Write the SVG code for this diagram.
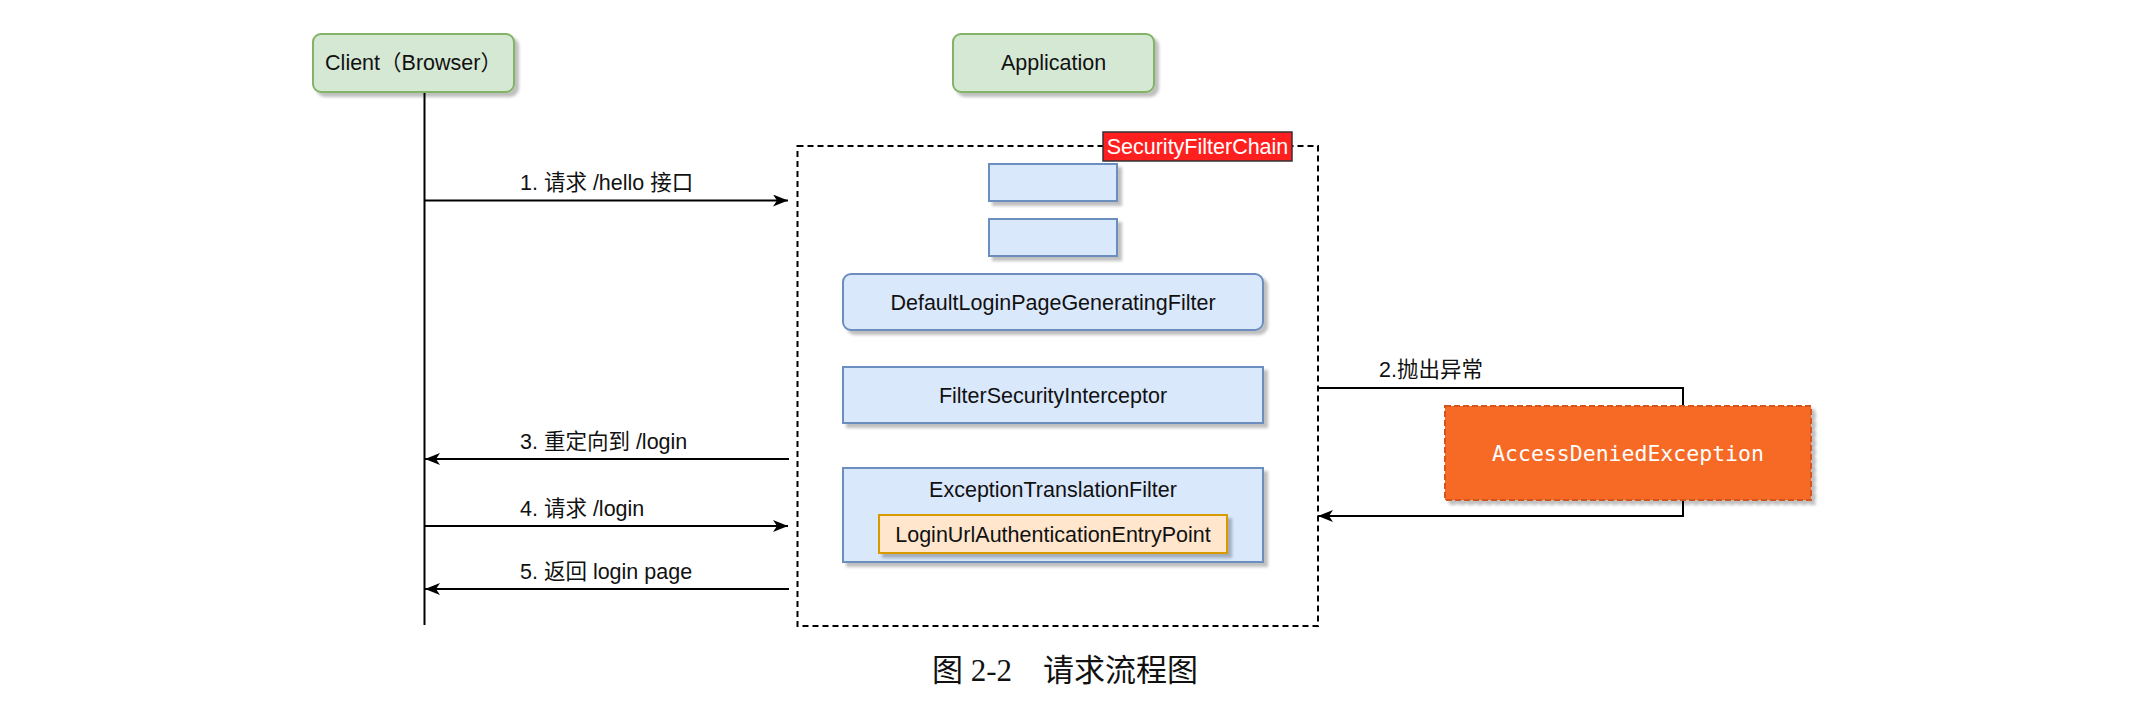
<svg xmlns="http://www.w3.org/2000/svg" width="2133" height="715" viewBox="0 0 2133 715">
<defs>
<filter id="sh" x="-10%" y="-10%" width="130%" height="140%">
<feDropShadow dx="4" dy="4" stdDeviation="1.5" flood-color="#000" flood-opacity="0.25"/>
</filter>
<marker id="ah" markerUnits="userSpaceOnUse" markerWidth="16" markerHeight="12" refX="15" refY="6" orient="auto">
<path d="M0,0 L15,6 L0,12 L4,6 Z" fill="#000"/>
</marker>
<style>
.t{font-family:"Liberation Sans","Noto Sans CJK SC",sans-serif;font-size:21.5px;fill:#111}
.c{text-anchor:middle}
.green{fill:#d5e8d4;stroke:#82b366;stroke-width:2}
.blue{fill:#dae8fc;stroke:#6c8ebf;stroke-width:2}
.orange{fill:#ffe6cc;stroke:#d79b00;stroke-width:2}
.ln{fill:none;stroke:#000;stroke-width:2}
</style>
</defs>
<rect width="2133" height="715" fill="#fff"/>

<g id="lifeline">
<line x1="424.5" y1="92" x2="424.5" y2="625" class="ln"/>
</g>

<g id="client">
<rect x="313" y="34" width="201" height="58" rx="8" class="green" filter="url(#sh)"/>
<text x="413.5" y="70" class="t c">Client（Browser）</text>
</g>

<g id="application">
<rect x="953" y="34" width="201" height="58" rx="8" class="green" filter="url(#sh)"/>
<text x="1053.5" y="70" class="t c">Application</text>
</g>

<g id="securityFilterChain">
<rect x="797.5" y="146" width="520.5" height="480" fill="none" stroke="#000" stroke-width="2" stroke-dasharray="6 4"/>
<rect x="1103" y="132" width="189" height="29" fill="#ff1f1f" stroke="#333" stroke-width="1.5"/>
<text x="1197.5" y="154" class="t c" style="fill:#fff">SecurityFilterChain</text>
</g>

<g id="filter1">
<rect x="989" y="164" width="128" height="37" class="blue" filter="url(#sh)"/>
</g>
<g id="filter2">
<rect x="989" y="219" width="128" height="37" class="blue" filter="url(#sh)"/>
</g>

<g id="defaultLoginPageGeneratingFilter">
<rect x="843" y="274" width="420" height="56" rx="8" class="blue" filter="url(#sh)"/>
<text x="1053" y="310" class="t c">DefaultLoginPageGeneratingFilter</text>
</g>

<g id="filterSecurityInterceptor">
<rect x="843" y="367" width="420" height="56" class="blue" filter="url(#sh)"/>
<text x="1053" y="403" class="t c">FilterSecurityInterceptor</text>
</g>

<g id="exceptionTranslationFilter">
<rect x="843" y="468" width="420" height="94" class="blue" filter="url(#sh)"/>
<text x="1053" y="497" class="t c">ExceptionTranslationFilter</text>
</g>

<g id="loginUrlAuthenticationEntryPoint">
<rect x="879" y="515" width="348" height="38" class="orange" filter="url(#sh)"/>
<text x="1053" y="542" class="t c">LoginUrlAuthenticationEntryPoint</text>
</g>

<g id="connectors">
<line x1="424.5" y1="200.5" x2="788" y2="200.5" class="ln" marker-end="url(#ah)"/>
<text x="520" y="190" class="t">1. 请求 /hello 接口</text>

<path d="M1318,388 H1683 V406" class="ln"/>
<text x="1379" y="377" class="t">2.抛出异常</text>
<path d="M1683,500 V516 H1318" class="ln" marker-end="url(#ah)"/>

<line x1="789" y1="459" x2="425" y2="459" class="ln" marker-end="url(#ah)"/>
<text x="520" y="449" class="t">3. 重定向到 /login</text>

<line x1="424.5" y1="526" x2="788" y2="526" class="ln" marker-end="url(#ah)"/>
<text x="520" y="516" class="t">4. 请求 /login</text>

<line x1="789" y1="589" x2="425" y2="589" class="ln" marker-end="url(#ah)"/>
<text x="520" y="579" class="t">5. 返回 login page</text>
</g>

<g id="accessDeniedException">
<rect x="1445" y="406" width="366" height="94" fill="#f76b26" stroke="#d4561c" stroke-width="2" stroke-dasharray="6 3" filter="url(#sh)"/>
<text x="1628" y="461" text-anchor="middle" style="font-family:'DejaVu Sans Mono',monospace;font-size:21.5px;fill:#fff">AccessDeniedException</text>
</g>

<g id="caption">
<text x="932" y="681" style="font-family:'Liberation Serif','Noto Sans CJK SC',serif;font-size:31px;fill:#111">图 2-2　请求流程图</text>
</g>
</svg>
